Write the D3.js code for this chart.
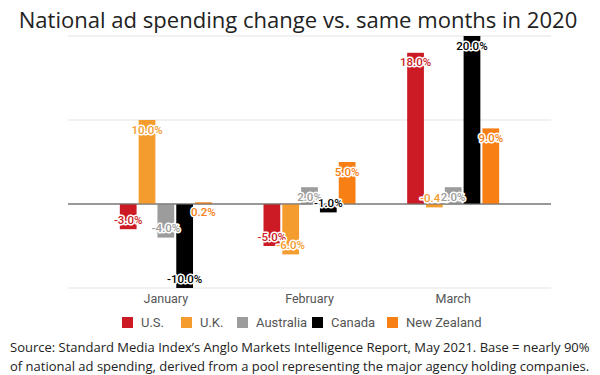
<!DOCTYPE html>
<html>
<head>
<meta charset="utf-8">
<script src="https://cdn.jsdelivr.net/npm/d3@7"></script>
<style>
  body{margin:0;background:#fff}
  svg{display:block}
</style>
</head>
<body>
<svg id="chart" width="600" height="375"></svg>
<script>
// data
var months=['January','February','March']
var series=['U.S.','U.K.','Australia','Canada','New Zealand']
var colors=['#cc1b24','#f59c2e','#9c9c9c','#000000','#f77f14']
var values=[
  [-3.0,10.0,-4.0,-10.0,0.2],   // January
  [-5.0,-6.0,2.0,-1.0,5.0],     // February
  [18.0,-0.4,2.0,20.0,9.0]      // March
]
var labels=[
  ['-3.0%','10.0%','-4.0%','-10.0%','0.2%'],
  ['-5.0%','-6.0%','2.0%','-1.0%','5.0%'],
  ['18.0%','-0.4%','2.0%','20.0%','9.0%']
]
var gridTicks=[-10,0,10,20]

var svg=d3.select('#chart')
var plot={left:68,right:551,top:36,bottom:288}

var x=d3.scaleBand().domain(months).range([94,525])
var inner=d3.scaleBand().domain(series).range([-46,46]).paddingInner(0.11)
var y=d3.scaleLinear().domain([-10,20]).range([plot.bottom,plot.top])

// shrink/grow a text so it spans a given width
function fit(sel,w)
{
    sel.each(function(){
        var fs=+this.getAttribute('font-size')
        var len=this.getComputedTextLength()
        this.setAttribute('font-size',fs*w/len)
    })
}

// title
svg.append('text')
    .attr('x',298).attr('y',28)
    .attr('text-anchor','middle')
    .attr('font-family','Open Sans')
    .attr('font-size',24)
    .attr('fill','#222')
    .text('National ad spending change vs. same months in 2020')
    .call(fit,559)

// gridlines
svg.append('g').attr('id','grid')
    .selectAll('line')
    .data(gridTicks)
    .join('line')
    .attr('x1',plot.left).attr('x2',plot.right)
    .attr('y1',d=>y(d)).attr('y2',d=>y(d))
    .attr('stroke',d=>d==0?'#777':'#e3e3e3')
    .attr('stroke-width',d=>d==0?1.2:1)

// bars
var flat=[]
for(let i=0;i<months.length;i++)
    for(let j=0;j<series.length;j++)
        flat.push({month:months[i],s:series[j],v:values[i][j],label:labels[i][j],c:colors[j]})

svg.append('g').attr('id','bars')
    .selectAll('rect')
    .data(flat)
    .join('rect')
    .attr('x',d=>x(d.month)+x.bandwidth()/2+inner(d.s))
    .attr('width',inner.bandwidth())
    .attr('y',d=>y(Math.max(0,d.v)))
    .attr('height',d=>Math.abs(y(d.v)-y(0)))
    .attr('fill',d=>d.c)

// zero line on top of bars
svg.append('line')
    .attr('x1',plot.left).attr('x2',plot.right)
    .attr('y1',y(0)).attr('y2',y(0))
    .attr('stroke','#777').attr('stroke-width',1.2)

// value labels, inside the bar end
svg.append('g').attr('id','vals')
    .selectAll('text')
    .data(flat)
    .join('text')
    .attr('x',d=>x(d.month)+x.bandwidth()/2+inner(d.s)+inner.bandwidth()/2)
    .attr('y',d=>y(d.v)+(d.v>=0?9.5:-9.5))
    .attr('dy','0.35em')
    .attr('text-anchor','middle')
    .attr('font-family','Roboto')
    .attr('font-size',11.5)
    .attr('font-weight',500)
    .attr('fill',d=>d.c)
    .attr('stroke','#fff')
    .attr('stroke-width',3)
    .attr('paint-order','stroke')
    .attr('stroke-linejoin','round')
    .text(d=>d.label)

// month labels
svg.append('g').attr('id','x-ticks')
    .selectAll('text')
    .data(months)
    .join('text')
    .attr('x',d=>x(d)+x.bandwidth()/2)
    .attr('y',303)
    .attr('text-anchor','middle')
    .attr('font-family','Roboto')
    .attr('font-size',12.5)
    .attr('fill','#555')
    .text(d=>d)

// legend
var legX=[122,181,237,312,387]
var leg=svg.append('g').attr('id','legend')
    .selectAll('g')
    .data(series)
    .join('g')
    .attr('transform',(d,i)=>`translate(${legX[i]},317)`)
leg.append('rect')
    .attr('width',11).attr('height',11)
    .attr('fill',(d,i)=>colors[i])
leg.append('text')
    .attr('x',19).attr('y',10)
    .attr('font-family','Roboto')
    .attr('font-size',13)
    .attr('fill','#555')
    .text(d=>d)

// source note
var note=['Source: Standard Media Index\u2019s Anglo Markets Intelligence Report, May 2021. Base = nearly 90%',
          'of national ad spending, derived from a pool representing the major agency holding companies.']
svg.append('g').attr('id','note')
    .selectAll('text')
    .data(note)
    .join('text')
    .attr('x',10)
    .attr('y',(d,i)=>352+i*19)
    .attr('font-family','Open Sans')
    .attr('font-size',13.5)
    .attr('fill','#222')
    .text(d=>d)
    .call(fit,580)
</script>
</body>
</html>
